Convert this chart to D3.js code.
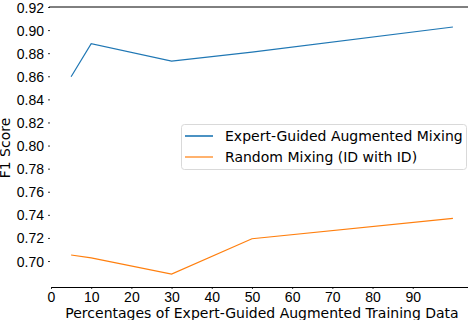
<!DOCTYPE html>
<html>
<head>
<meta charset="utf-8">
<script src="https://cdn.jsdelivr.net/npm/d3@7"></script>
<style>
  body { margin: 0; background: #fff; }
  svg { display: block; font-family: "DejaVu Sans", sans-serif; }
</style>
</head>
<body>
<svg id="chart" width="468" height="320"></svg>
<script>
const xValues = [5, 10, 30, 50, 100]
const expertGuided = [0.8596, 0.8882, 0.8732, 0.8810, 0.9027]
const randomMixing = [0.7052, 0.7028, 0.6887, 0.7193, 0.7370]
const xTicks = [0, 10, 20, 30, 40, 50, 60, 70, 80, 90]
const yTicks = [0.70, 0.72, 0.74, 0.76, 0.78, 0.80, 0.82, 0.84, 0.86, 0.88, 0.90, 0.92]
const seriesNames = ["Expert-Guided Augmented Mixing", "Random Mixing (ID with ID)"]
const colors = ["#1f77b4", "#ff7f0e"]

const svg = d3.select("#chart")
const plotLeft = 51, plotRight = 469, plotTop = 7, plotBottom = 287

const x = d3.scaleLinear().domain([0, 104]).range([plotLeft, plotRight])
const y = d3.scaleLinear().domain([0.6775, 0.92]).range([plotBottom, plotTop])

// y axis, no spine
const yAxis = svg.append("g")
    .attr("transform", `translate(${plotLeft - 1},0)`)
    .call(d3.axisLeft(y).tickValues(yTicks).tickSize(2).tickPadding(4).tickFormat(d3.format(".2f")))
yAxis.select(".domain").remove()
yAxis.selectAll("text").style("font-size", "14px").attr("fill", "#000").attr("dy", "0.36em")
yAxis.selectAll("line").attr("stroke", "#000").attr("stroke-width", 0.8)

// x axis
const xAxis = svg.append("g")
    .attr("transform", `translate(0,${plotBottom})`)
    .call(d3.axisBottom(x).tickValues(xTicks).tickSize(2).tickPadding(3).tickSizeOuter(0))
xAxis.select(".domain").attr("stroke", "#000").attr("stroke-width", 1)
xAxis.selectAll("text").style("font-size", "14px").attr("fill", "#000")
xAxis.selectAll(".tick line").attr("stroke", "#000").attr("stroke-width", 0.8)

// top spine
svg.append("line")
    .attr("x1", plotLeft - 2).attr("x2", 468)
    .attr("y1", y(0.92)).attr("y2", y(0.92))
    .attr("stroke", "#000").attr("stroke-width", 1)

const line = d3.line()
    .x((d, i) => x(xValues[i]))
    .y(d => y(d))

;[expertGuided, randomMixing].forEach((series, i) => {
    svg.append("path")
        .datum(series)
        .attr("d", line)
        .attr("fill", "none")
        .attr("stroke", colors[i])
        .attr("stroke-width", 1.2)
})

// axis labels
svg.append("text")
    .attr("x", 262).attr("y", 318)
    .attr("text-anchor", "middle")
    .style("font-size", "14px")
    .text("Percentages of Expert-Guided Augmented Training Data")

svg.append("text")
    .attr("transform", "translate(10,148) rotate(-90)")
    .attr("text-anchor", "middle")
    .style("font-size", "14px")
    .text("F1 Score")

// legend
const legend = svg.append("g")
legend.append("rect")
    .attr("x", 181.5).attr("y", 124.5)
    .attr("width", 285).attr("height", 45)
    .attr("rx", 3)
    .attr("fill", "#fff").attr("fill-opacity", 0.8)
    .attr("stroke", "#d9d9d9")

seriesNames.forEach((name, i) => {
    const cy = 136 + i * 21
    legend.append("line")
        .attr("x1", 185).attr("x2", 213)
        .attr("y1", cy).attr("y2", cy)
        .attr("stroke", colors[i])
        .attr("stroke-width", i === 0 ? 1.6 : 1.2)
    legend.append("text")
        .attr("x", 225).attr("y", cy)
        .attr("dy", "0.36em")
        .style("font-size", "14px")
        .text(name)
})
</script>
</body>
</html>
